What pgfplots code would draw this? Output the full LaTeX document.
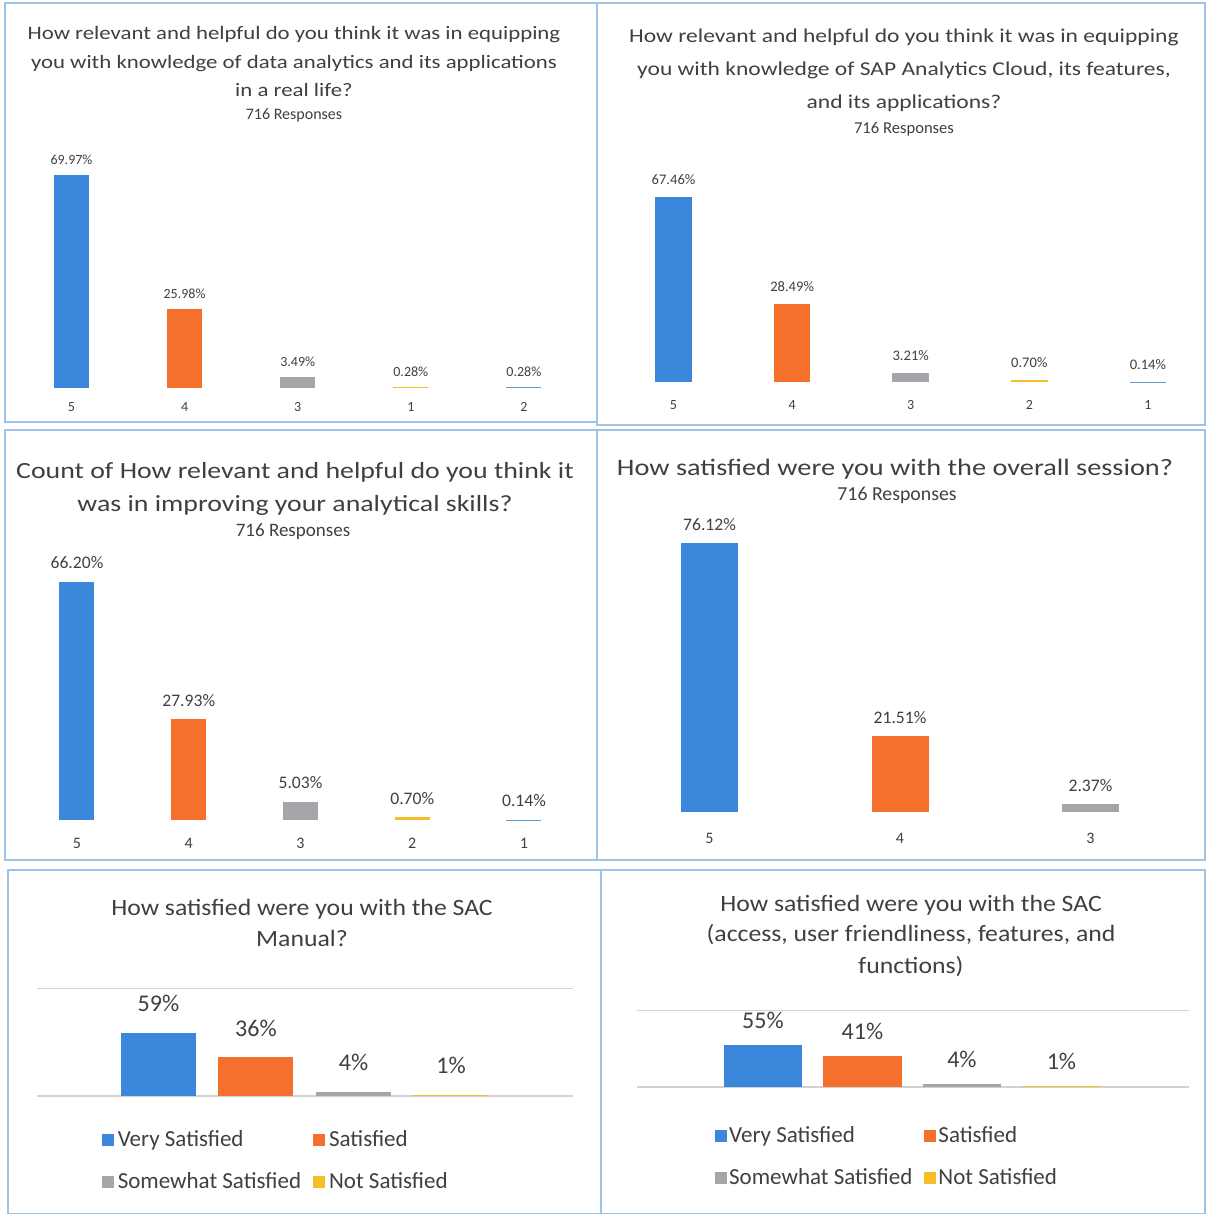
\documentclass[border=0pt]{standalone}
\usepackage{fontspec}
\setmainfont{Carlito}
\usepackage{pgfplots}
\pgfplotsset{compat=1.18}
\definecolor{cblue}{RGB}{58,135,220}
\definecolor{corange}{RGB}{245,112,45}
\definecolor{cgray}{RGB}{165,165,170}
\definecolor{cyellow}{RGB}{247,190,40}
\definecolor{clblue}{RGB}{91,155,213}
\definecolor{txt}{RGB}{64,64,64}
\definecolor{frame}{RGB}{157,195,230}
\newcommand\fs[1]{\fontsize{#1}{#1}\selectfont}
% x, y (px), size, xstretch, text
\newcommand\T[5]{\node[anchor=base,inner sep=0pt,text=txt,font=\fs{#3}] at (#1*0.5pt,-#2*0.5pt) {\scalebox{#4}[1]{#5}};}
\newcommand\R[4]{\draw[frame,line width=0.75pt] (#1*0.5pt,-#2*0.5pt) rectangle (#3*0.5pt,-#4*0.5pt);}
\pgfplotsset{
  panel/.style={
    anchor=south west,
    enlargelimits=false, clip=false,
    axis line style={draw=none},
    /pgf/number format/assume math mode=true,
    ymin=0, major tick length=0pt, ytick=\empty,
    ybar, bar shift=0pt,
    xticklabel style={anchor=base,text=txt,inner sep=0pt},
    every node near coord/.append style={anchor=base,inner sep=0pt,text=txt},
  },
  pct2/.style={nodes near coords={\pgfmathprintnumber[fixed,fixed zerofill,precision=2,assume math mode=true]{\pgfplotspointmeta}\%}},
  pct0/.style={nodes near coords={\pgfmathprintnumber[fixed,precision=0,assume math mode=true]{\pgfplotspointmeta}\%}},
}
\begin{document}
\begin{tikzpicture}
\fill[white] (0,0) rectangle (603.5pt,-607pt);
% frames
\R{5}{3}{597}{422}
\R{597}{3}{1205}{425}
\R{5}{430}{597}{860}
\R{597}{430}{1205}{860}
\R{8}{870}{601}{1214}
\R{601}{870}{1205}{1214}

% ---------- Panel 1 ----------
\T{294}{40}{9.5}{1.2}{How relevant and helpful do you think it was in equipping}
\T{294}{69}{9.5}{1.2}{you with knowledge of data analytics and its applications}
\T{294}{97}{9.5}{1.2}{in a real life?}
\T{294}{119.5}{8}{1}{716 Responses}
\begin{axis}[panel, pct2, at={(14.95*0.5pt,-387.5*0.5pt)}, x=56.55pt, y=1.515pt,
  xmin=-0.5, xmax=4.5, ymax=75, bar width=17.5pt,
  xtick={0,1,2,3,4}, xticklabels={\mbox{5},\mbox{4},\mbox{3},\mbox{1},\mbox{2}},
  xticklabel style={font=\fs{7}, yshift=-12.2pt},
  every node near coord/.append style={font=\fs{7}, yshift=5.3pt}]
\addplot[fill=cblue,draw=none] coordinates {(0,69.97)};
\addplot[fill=corange,draw=none] coordinates {(1,25.98)};
\addplot[fill=cgray,draw=none] coordinates {(2,3.49)};
\addplot[fill=cyellow,draw=none] coordinates {(3,0.28)};
\addplot[fill=clblue,draw=none] coordinates {(4,0.28)};
\end{axis}

% ---------- Panel 2 ----------
\T{904}{42.3}{9.8}{1.2}{How relevant and helpful do you think it was in equipping}
\T{904}{75.3}{9.8}{1.2}{you with knowledge of SAP Analytics Cloud, its features,}
\T{904}{108.3}{9.8}{1.2}{and its applications?}
\T{904}{134}{8.3}{1}{716 Responses}
\begin{axis}[panel, pct2, at={(614.2*0.5pt,-382*0.5pt)}, x=59.3pt, y=1.37pt,
  xmin=-0.5, xmax=4.5, ymax=70, bar width=18.25pt,
  xtick={0,1,2,3,4}, xticklabels={\mbox{5},\mbox{4},\mbox{3},\mbox{2},\mbox{1}},
  xticklabel style={font=\fs{7}, yshift=-13.8pt},
  every node near coord/.append style={font=\fs{7.3}, yshift=6.2pt}]
\addplot[fill=cblue,draw=none] coordinates {(0,67.46)};
\addplot[fill=corange,draw=none] coordinates {(1,28.49)};
\addplot[fill=cgray,draw=none] coordinates {(2,3.21)};
\addplot[fill=cyellow,draw=none] coordinates {(3,0.70)};
\addplot[fill=clblue,draw=none] coordinates {(4,0.14)};
\end{axis}

% ---------- Panel 3 ----------
\T{295}{478.5}{11.6}{1.2}{Count of How relevant and helpful do you think it}
\T{295}{511.5}{11.6}{1.2}{was in improving your analytical skills?}
\T{293}{536.5}{9.5}{1}{716 Responses}
\begin{axis}[panel, pct2, at={(21.1*0.5pt,-820*0.5pt)}, x=55.875pt, y=1.8pt,
  xmin=-0.5, xmax=4.5, ymax=70, bar width=17.5pt,
  xtick={0,1,2,3,4}, xticklabels={\mbox{5},\mbox{4},\mbox{3},\mbox{2},\mbox{1}},
  xticklabel style={font=\fs{8}, yshift=-14.2pt},
  every node near coord/.append style={font=\fs{8.8}, yshift=6.7pt}]
\addplot[fill=cblue,draw=none] coordinates {(0,66.20)};
\addplot[fill=corange,draw=none] coordinates {(1,27.93)};
\addplot[fill=cgray,draw=none] coordinates {(2,5.03)};
\addplot[fill=cyellow,draw=none] coordinates {(3,0.70)};
\addplot[fill=clblue,draw=none] coordinates {(4,0.14)};
\end{axis}

% ---------- Panel 4 ----------
\T{895}{475.5}{11.8}{1.2}{How satisfied were you with the overall session?}
\T{897}{500}{9.9}{1}{716 Responses}
\begin{axis}[panel, pct2, at={(614.25*0.5pt,-812*0.5pt)}, x=95.25pt, y=1.765pt,
  xmin=-0.5, xmax=2.5, ymax=80, bar width=28.5pt,
  xtick={0,1,2}, xticklabels={\mbox{5},\mbox{4},\mbox{3}},
  xticklabel style={font=\fs{8}, yshift=-15.7pt},
  every node near coord/.append style={font=\fs{8.8}, yshift=6.2pt}]
\addplot[fill=cblue,draw=none] coordinates {(0,76.12)};
\addplot[fill=corange,draw=none] coordinates {(1,21.51)};
\addplot[fill=cgray,draw=none] coordinates {(2,2.37)};
\end{axis}

% ---------- Panel 5 ----------
\T{302}{915.5}{11.7}{1.1}{How satisfied were you with the SAC}
\T{302}{946.5}{11.7}{1.1}{Manual?}
\begin{axis}[panel, pct0, at={(37*0.5pt,-1096*0.5pt)}, x=48.75pt, y=0.5375pt,
  xmin=-1.246, xmax=4.25, ymax=100, bar width=37.5pt,
  xtick=\empty, ytick={0,100}, yticklabels={}, ymajorgrids,
  grid style={gray!35,line width=0.6pt},
  every node near coord/.append style={font=\fs{12}, yshift=10.5pt},
  legend columns=2,
  legend image code/.code={\fill[#1] (0pt,-3pt) rectangle (6pt,3pt);},
  legend style={at={(0.109,-0.245)}, anchor=north west, draw=none, fill=none,
    font=\fs{11.5}, text=txt, row sep=7.5pt,
    nodes={inner xsep=2pt},
    /tikz/every even column/.append style={column sep=4pt}},
  legend cell align=left]
\addplot[fill=cblue,draw=none] coordinates {(0,59)};
\addplot[fill=corange,draw=none] coordinates {(1,36)};
\addplot[fill=cgray,draw=none] coordinates {(2,4)};
\addplot[fill=cyellow,draw=none] coordinates {(3,1)};
\legend{Very Satisfied,Satisfied,Somewhat Satisfied,Not Satisfied}
\end{axis}

% ---------- Panel 6 ----------
\T{911}{911.5}{11.7}{1.1}{How satisfied were you with the SAC}
\T{911}{941.5}{11.7}{1.1}{(access, user friendliness, features, and}
\T{911}{973.5}{11.7}{1.1}{functions)}
\begin{axis}[panel, pct0, at={(637*0.5pt,-1087*0.5pt)}, x=49.75pt, y=0.3825pt,
  xmin=-1.266, xmax=4.28, ymax=100, bar width=39.25pt,
  xtick=\empty, ytick={0,100}, yticklabels={}, ymajorgrids,
  grid style={gray!35,line width=0.6pt},
  every node near coord/.append style={font=\fs{12}, yshift=8.3pt},
  legend columns=2,
  legend image code/.code={\fill[#1] (0pt,-3pt) rectangle (6pt,3pt);},
  legend style={at={(0.130,-0.405)}, anchor=north west, draw=none, fill=none,
    font=\fs{11.5}, text=txt, row sep=7.5pt,
    nodes={inner xsep=1pt},
    /tikz/every even column/.append style={column sep=5pt}},
  legend cell align=left]
\addplot[fill=cblue,draw=none] coordinates {(0,55)};
\addplot[fill=corange,draw=none] coordinates {(1,41)};
\addplot[fill=cgray,draw=none] coordinates {(2,4)};
\addplot[fill=cyellow,draw=none] coordinates {(3,1)};
\legend{Very Satisfied,Satisfied,Somewhat Satisfied,Not Satisfied}
\end{axis}

\pgfresetboundingbox
\path (0,0) rectangle (603.5pt,-607pt);
\end{tikzpicture}
\end{document}
